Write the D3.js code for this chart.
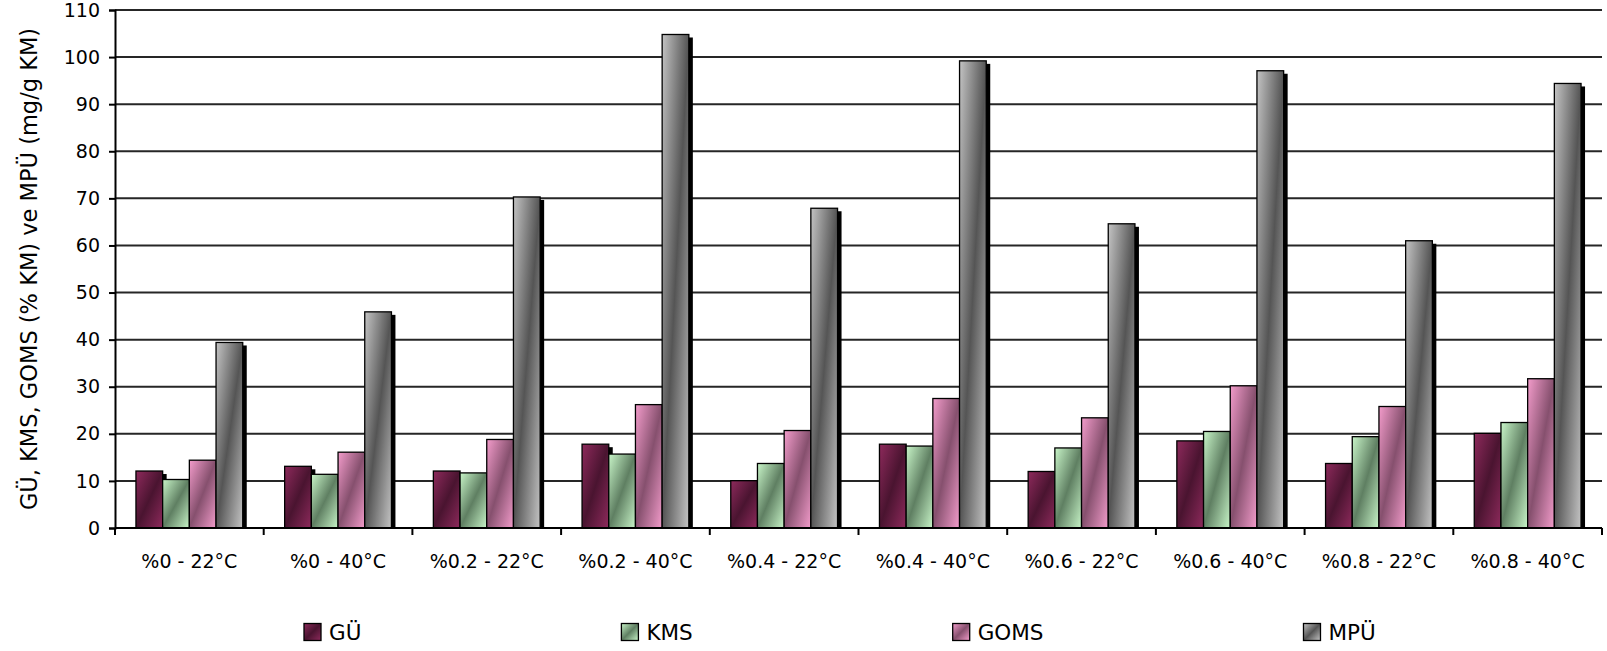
<!DOCTYPE html>
<html>
<head>
<meta charset="utf-8">
<script src="https://cdn.jsdelivr.net/npm/d3@7"></script>
<style>
  html, body { margin: 0; padding: 0; background: #fff; }
  svg { display: block; font-family: "DejaVu Sans", Verdana, sans-serif; }
</style>
</head>
<body>
<svg id="chart" width="1607" height="651"></svg>
<script>
// Category labels (concentration - temperature)
const categories = ["%0 - 22°C", "%0 - 40°C", "%0.2 - 22°C", "%0.2 - 40°C", "%0.4 - 22°C",
                    "%0.4 - 40°C", "%0.6 - 22°C", "%0.6 - 40°C", "%0.8 - 22°C", "%0.8 - 40°C"];
const seriesNames = ["GÜ", "KMS", "GOMS", "MPÜ"];
const guValues   = [12.1, 13.1, 12.1, 17.8, 10.05, 17.8, 12.0, 18.5, 13.7, 20.1];
const kmsValues  = [10.3, 11.4, 11.7, 15.7, 13.7, 17.4, 17.0, 20.5, 19.4, 22.4];
const gomsValues = [14.4, 16.1, 18.8, 26.2, 20.7, 27.5, 23.4, 30.2, 25.8, 31.7];
const mpuValues  = [39.4, 45.9, 70.3, 104.8, 67.9, 99.2, 64.6, 97.1, 61.0, 94.4];
const yTicks = [0, 10, 20, 30, 40, 50, 60, 70, 80, 90, 100, 110];
const yTitle = "GÜ, KMS, GOMS (% KM) ve MPÜ (mg/g KM)";

const seriesValues = [guValues, kmsValues, gomsValues, mpuValues];
// light edge / dark centre colours of each series' diagonal gradient
const seriesLight = ["#8e2a5c", "#c8f5c8", "#f39ccb", "#c4c4c4"];
const seriesDark  = ["#4a1430", "#5f7f62", "#86506e", "#555555"];

const svg = d3.select("#chart");
const plotLeft = 115, plotRight = 1602, plotTop = 10, plotBottom = 528;

const x0 = d3.scaleBand().domain(categories).range([plotLeft, plotRight]).padding(0);
const x1 = d3.scaleBand().domain(seriesNames).range([0, x0.bandwidth()])
  .paddingInner(0).paddingOuter(0.785);
const y = d3.scaleLinear().domain([0, 110]).range([plotBottom, plotTop]);

// gradients
const defs = svg.append("defs");
seriesNames.forEach((s, i) => {
  const g = defs.append("linearGradient").attr("id", "grad" + i)
    .attr("x1", 0).attr("y1", 0).attr("x2", 1).attr("y2", 1);
  g.append("stop").attr("offset", "0%").attr("stop-color", seriesLight[i]);
  g.append("stop").attr("offset", "50%").attr("stop-color", seriesDark[i]);
  g.append("stop").attr("offset", "100%").attr("stop-color", seriesLight[i]);
});

// horizontal gridlines
svg.append("g").selectAll("line").data(yTicks.filter(d => d > 0)).join("line")
  .attr("x1", plotLeft).attr("x2", plotRight)
  .attr("y1", d => y(d)).attr("y2", d => y(d))
  .attr("stroke", "#262626").attr("stroke-width", 2);

// bars, series by series: drop shadow first, then the bar
const shadowDx = 4, shadowDy = 3;
seriesNames.forEach((s, i) => {
  const data = categories.map((c, k) => ({ c, v: seriesValues[i][k] }));
  const g = svg.append("g");
  g.selectAll("rect.shadow").data(data).join("rect").attr("class", "shadow")
    .attr("x", d => x0(d.c) + x1(s) + shadowDx)
    .attr("y", d => y(d.v) + shadowDy)
    .attr("width", x1.bandwidth())
    .attr("height", d => Math.max(0, plotBottom - y(d.v) - shadowDy))
    .attr("fill", "#000");
  g.selectAll("rect.bar").data(data).join("rect").attr("class", "bar")
    .attr("x", d => x0(d.c) + x1(s))
    .attr("y", d => y(d.v))
    .attr("width", x1.bandwidth())
    .attr("height", d => plotBottom - y(d.v))
    .attr("fill", `url(#grad${i})`)
    .attr("stroke", "#000").attr("stroke-width", 1.3);
});

// y axis
const yAxis = svg.append("g").attr("transform", `translate(${plotLeft},0)`)
  .call(d3.axisLeft(y).tickValues(yTicks).tickSize(6).tickPadding(9).tickFormat(d3.format("d")));
yAxis.select(".domain").attr("stroke", "#000").attr("stroke-width", 2);
yAxis.selectAll(".tick line").attr("stroke", "#000").attr("stroke-width", 2);
yAxis.selectAll(".tick text").attr("font-size", 19).attr("fill", "#000")
  .attr("font-family", "DejaVu Sans");

// x axis: ticks at category boundaries, labels centred in each category
const xAxis = svg.append("g");
xAxis.append("line").attr("x1", plotLeft).attr("x2", plotRight)
  .attr("y1", plotBottom).attr("y2", plotBottom)
  .attr("stroke", "#000").attr("stroke-width", 2);
const bounds = categories.map(c => x0(c)).concat([plotRight]);
xAxis.selectAll("line.tk").data(bounds).join("line").attr("class", "tk")
  .attr("x1", d => d).attr("x2", d => d).attr("y1", plotBottom).attr("y2", plotBottom + 7)
  .attr("stroke", "#000").attr("stroke-width", 2);
xAxis.selectAll("text").data(categories).join("text")
  .attr("x", d => x0(d) + x0.bandwidth() / 2).attr("y", 568)
  .attr("text-anchor", "middle").attr("font-size", 19).attr("fill", "#000")
  .text(d => d);

// y axis title
svg.append("text")
  .attr("transform", `translate(37,${(plotTop + plotBottom) / 2}) rotate(-90)`)
  .attr("text-anchor", "middle").attr("font-size", 22.5).attr("fill", "#000")
  .text(yTitle);

// legend
const legend = svg.append("g");
const legendFont = 21.5, legendGap = 285;
let lx = 304;
seriesNames.forEach((s, i) => {
  const item = legend.append("g").attr("transform", `translate(${lx},0)`);
  item.append("rect").attr("x", 0).attr("y", 623.5).attr("width", 17).attr("height", 17)
    .attr("fill", `url(#grad${i})`).attr("stroke", "#000").attr("stroke-width", 1.3);
  const t = item.append("text").attr("x", 25).attr("y", 639.5)
    .attr("font-size", legendFont).attr("fill", "#000").text(s);
  lx += legendGap + t.node().getComputedTextLength();
});
</script>
</body>
</html>
